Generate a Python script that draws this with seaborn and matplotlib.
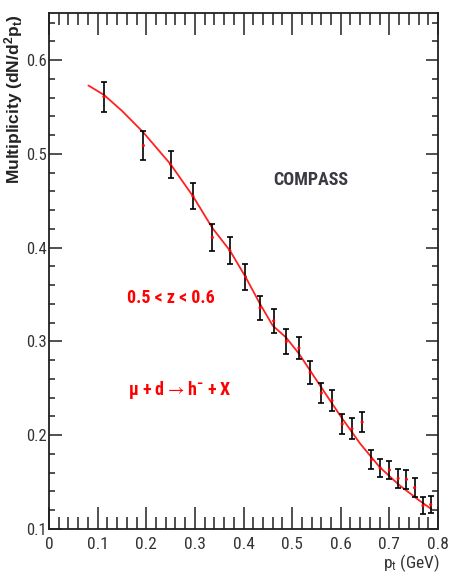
import matplotlib
matplotlib.use("Agg")
import matplotlib.pyplot as plt
from matplotlib import font_manager
from matplotlib.ticker import MultipleLocator, FixedLocator, FixedFormatter
import seaborn as sns
import pandas as pd

# ---- data ----
pt = [0.113, 0.194, 0.250, 0.296, 0.336, 0.372, 0.404, 0.434, 0.462, 0.488,
      0.514, 0.537, 0.560, 0.582, 0.603, 0.623, 0.644, 0.663, 0.681, 0.700,
      0.718, 0.735, 0.752, 0.769, 0.785]
mult = [0.561, 0.509, 0.489, 0.455, 0.411, 0.397, 0.369, 0.336, 0.322, 0.300,
        0.293, 0.267, 0.245, 0.237, 0.212, 0.207, 0.214, 0.174, 0.165, 0.163,
        0.154, 0.153, 0.144, 0.125, 0.126]
err = [0.016, 0.015, 0.0146, 0.0136, 0.0148, 0.0146, 0.014, 0.013, 0.013, 0.013,
       0.012, 0.012, 0.011, 0.011, 0.011, 0.011, 0.011, 0.010, 0.010, 0.010,
       0.010, 0.010, 0.010, 0.009, 0.009]
# fit curve
fit_pt = [0.081, 0.113, 0.150, 0.194, 0.250, 0.296, 0.336, 0.372, 0.404, 0.434,
          0.460, 0.488, 0.514, 0.537, 0.560, 0.600, 0.640, 0.680, 0.720, 0.760, 0.787]
fit_y = [0.573, 0.563, 0.546, 0.523, 0.489, 0.455, 0.421, 0.397, 0.369, 0.340,
         0.317, 0.304, 0.287, 0.269, 0.251, 0.220, 0.191, 0.166, 0.147, 0.131, 0.121]

xticks = [0, 0.1, 0.2, 0.3, 0.4, 0.5, 0.6, 0.7, 0.8]
xticklabels = ["0", "0.1", "0.2", "0.3", "0.4", "0.5", "0.6", "0.7", "0.8"]
yticks = [0.1, 0.2, 0.3, 0.4, 0.5, 0.6]
yticklabels = ["0.1", "0.2", "0.3", "0.4", "0.5", "0.6"]

df = pd.DataFrame({"pt": pt, "mult": mult, "err": err})
fit = pd.DataFrame({"pt": fit_pt, "y": fit_y})

sns.set_theme(style="ticks")
avail = {f.name for f in font_manager.fontManager.ttflist}
fams = [f for f in ["Roboto Condensed", "Archivo Narrow", "PT Sans Narrow", "Liberation Sans"]
        if f in avail]
plt.rcParams["font.family"] = fams[:1] + ["DejaVu Sans"]
plt.rcParams["mathtext.default"] = "regular"

W, H = 449, 577
fig = plt.figure(figsize=(W / 100, H / 100), dpi=100)
x0, x1, ytop, ybot = 49, 438, 13.3, 529
ax = fig.add_axes([x0 / W, 1 - ybot / H, (x1 - x0) / W, (ybot - ytop) / H])

# fit line
sns.lineplot(data=fit, x="pt", y="y", ax=ax, color="#ff2020", lw=1.3, sort=False)
# error bars
ax.errorbar(df["pt"], df["mult"], yerr=df["err"], fmt="none", ecolor="black",
            elinewidth=1.2, capsize=2.2, capthick=1.2, zorder=3)
sns.scatterplot(data=df, x="pt", y="mult", ax=ax, color="red", s=5,
                edgecolor="none", zorder=4)

ax.set_xlim(0, 0.8)
ax.set_ylim(0.1, 0.65)
ax.set_xlabel("")
ax.set_ylabel("")
ax.xaxis.set_major_locator(FixedLocator(xticks))
ax.xaxis.set_major_formatter(FixedFormatter(xticklabels))
ax.yaxis.set_major_locator(FixedLocator(yticks))
ax.yaxis.set_major_formatter(FixedFormatter(yticklabels))
ax.xaxis.set_minor_locator(MultipleLocator(0.02))
ax.yaxis.set_minor_locator(MultipleLocator(0.02))

ax.tick_params(axis="x", which="both", direction="in", top=True, bottom=True,
               width=1.1, color="#202020", labelsize=12.5, pad=6)
ax.tick_params(axis="x", which="major", length=15.5)
ax.tick_params(axis="x", which="minor", length=8.5)
ax.tick_params(axis="y", which="both", direction="in", left=True, right=True,
               width=1.1, color="#202020", labelsize=12, pad=1.5)
ax.tick_params(axis="y", which="major", length=9)
ax.tick_params(axis="y", which="minor", length=4.5)
for s in ax.spines.values():
    s.set_linewidth(1.3)
    s.set_color("#202020")
for lab in ax.get_xticklabels() + ax.get_yticklabels():
    lab.set_color("#333333")

# axis titles
fig.text(14 / W, 1 - 14 / H, "Multiplicity (dN/d$^2$p$_t$)", rotation=90,
         ha="center", va="top", fontsize=12.5, fontweight="bold", color="#222222",
         family=["Liberation Sans", "DejaVu Sans"])
fig.text(440 / W, 1 - 568 / H, "p$_t$ (GeV)", ha="right", va="baseline",
         fontsize=12.5, color="#333333")

# annotations
ax.text(0.8 * (311 - x0) / (x1 - x0), 0.6 - (180 - 60) / 938, "COMPASS",
        ha="center", va="center", fontsize=13,
        fontweight="bold", color="#3a3a44")
ax.text(0.8 * (171 - x0) / (x1 - x0), 0.6 - (298 - 60) / 938, "0.5 < z < 0.6",
        ha="center", va="center", fontsize=13, fontweight="bold", color="red")
ax.text(0.8 * (180 - x0) / (x1 - x0), 0.6 - (390 - 60) / 938,
        "\u03bc + d$\\rightarrow$h$^{-}$ + X",
        ha="center", va="center", fontsize=13, fontweight="bold", color="red")

fig.savefig("out.png", dpi=100)
